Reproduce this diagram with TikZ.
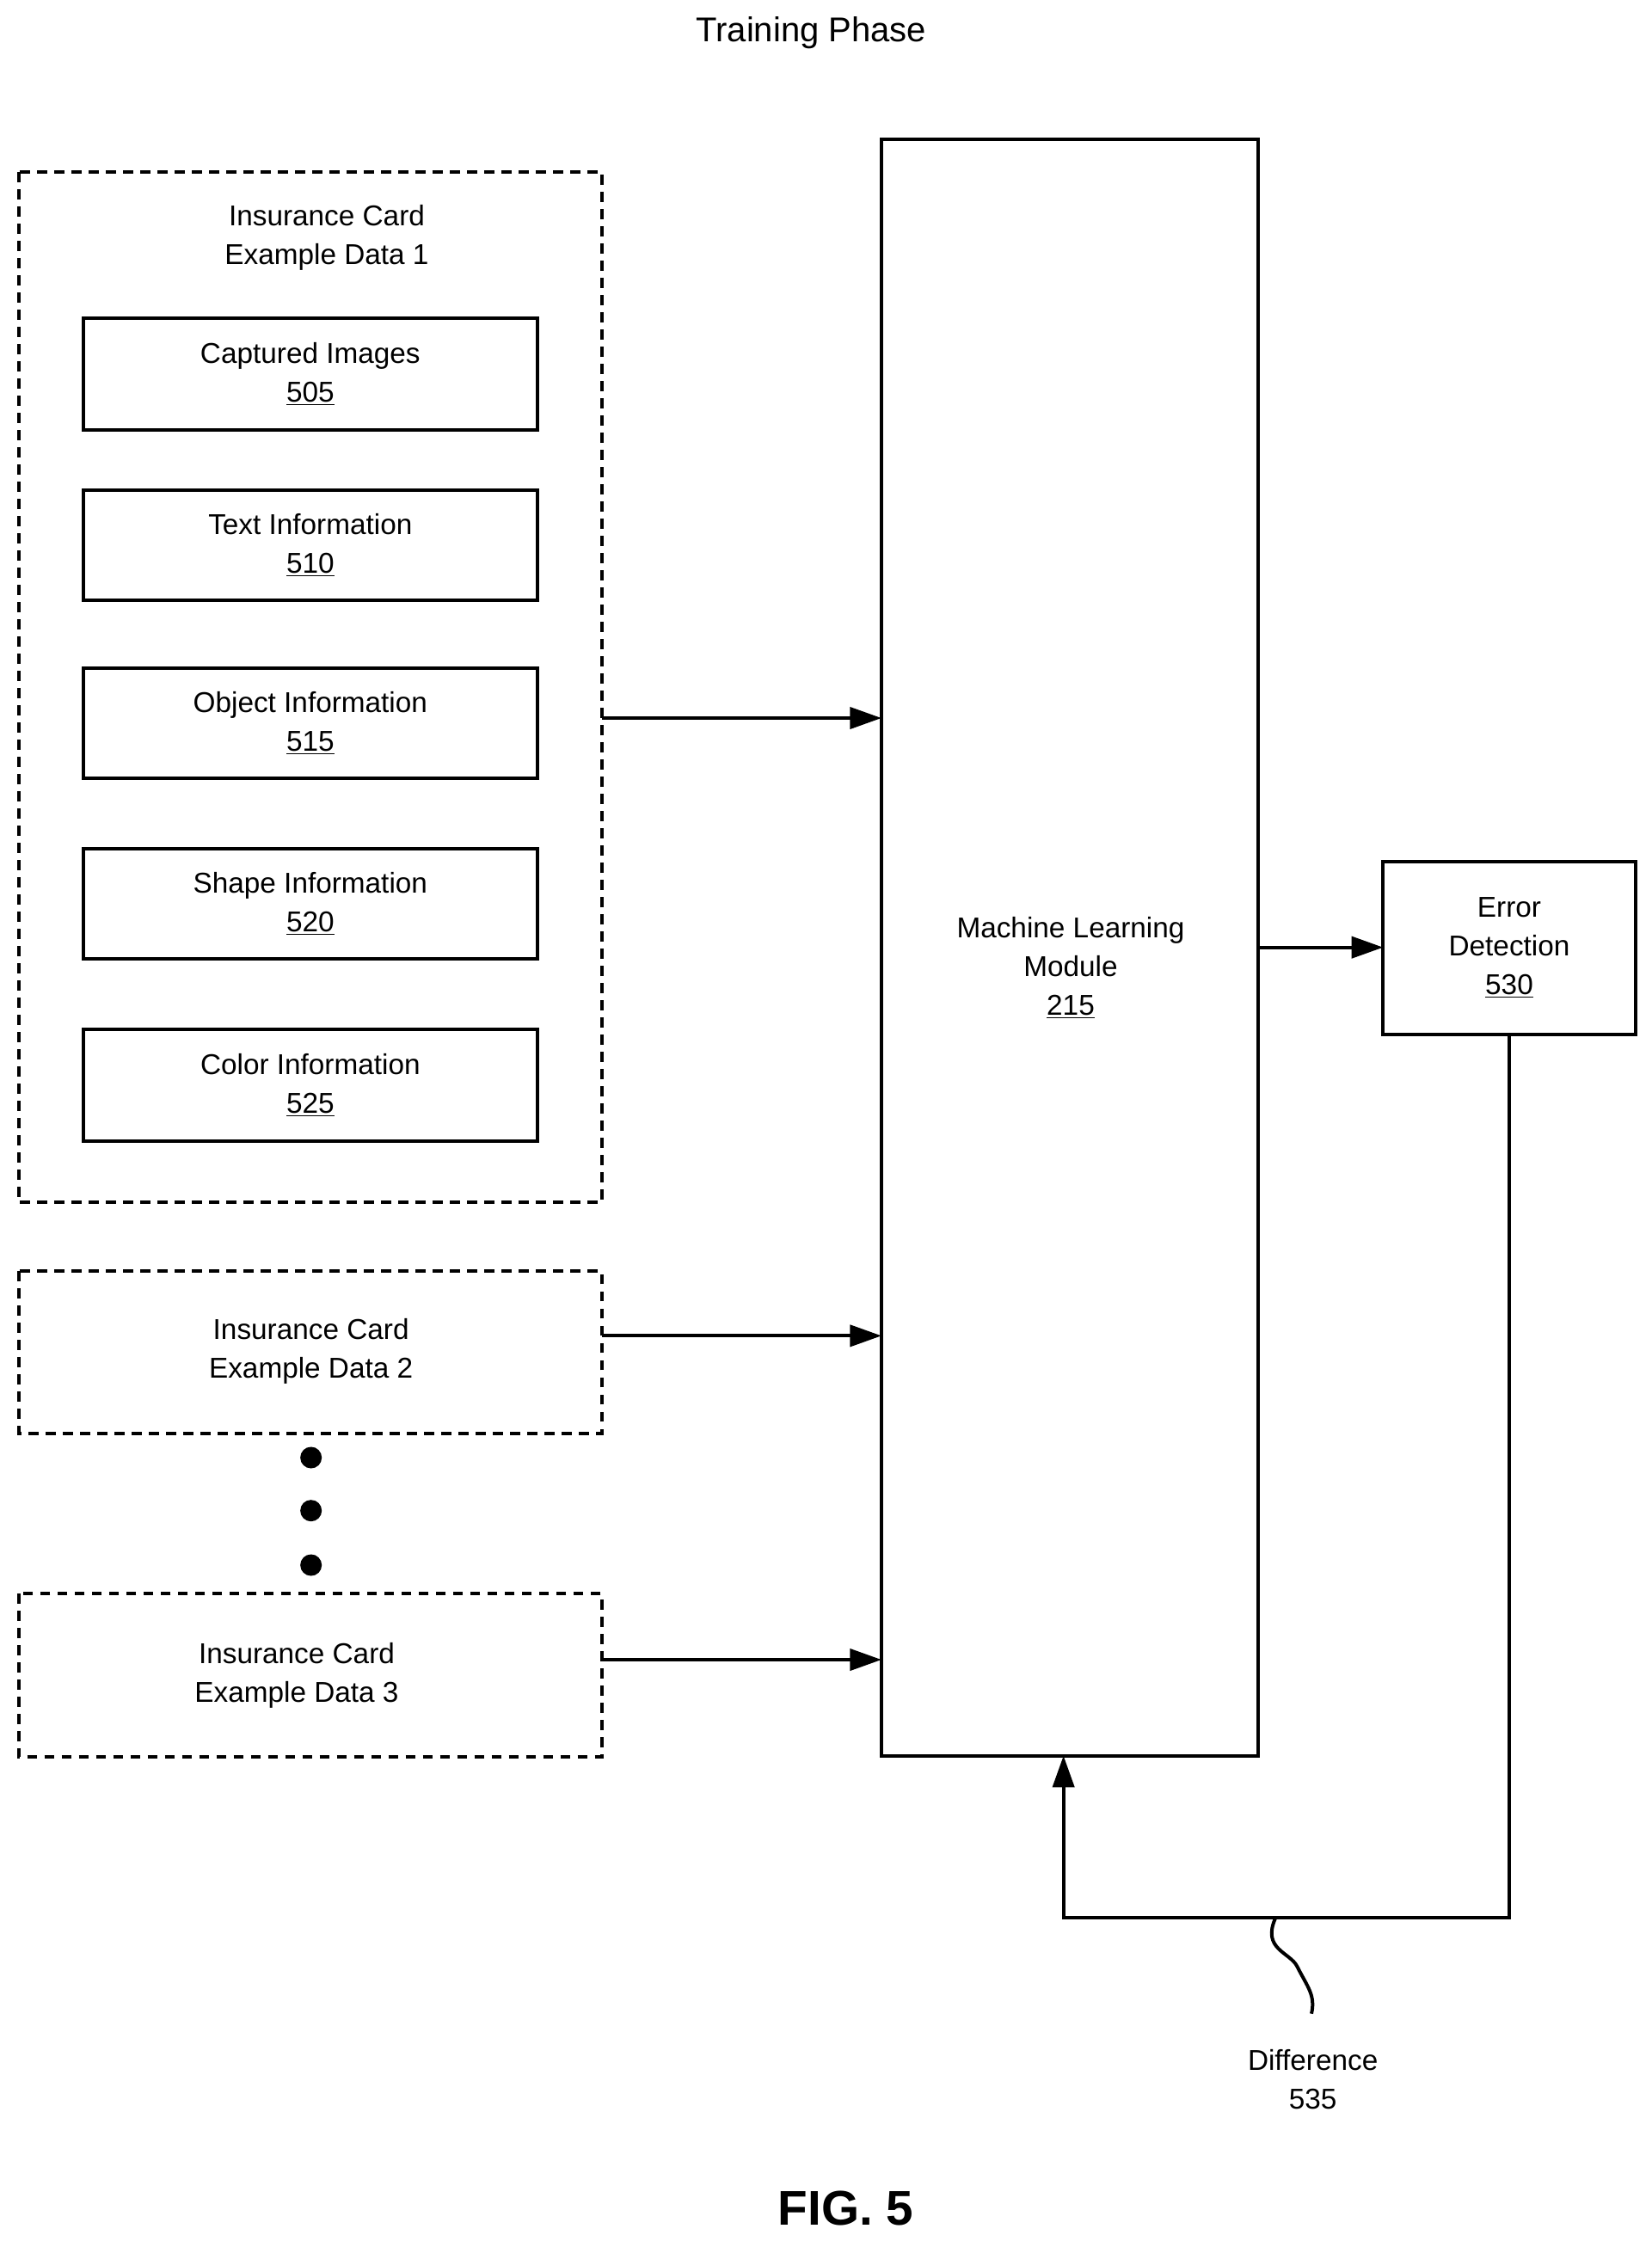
\documentclass[tikz,border=0pt]{standalone}
\usepackage{fontspec}
\setmainfont{Liberation Sans}
\usetikzlibrary{arrows.meta}
\begin{document}
\begin{tikzpicture}[x=1pt,y=-1pt,
  lw/.style={line width=2.4pt},
  dbox/.style={lw,dash pattern=on 7pt off 5pt},
  sbox/.style={lw},
  t/.style={font=\fontsize{20}{27}\selectfont,align=center},
  arr/.style={lw,-{Triangle[length=22pt,width=15pt]}}]
\useasboundingbox (0,0) rectangle (1152,1563.6);
\node[t,font=\fontsize{24}{28}\selectfont] (title) at (566,23) {Training Phase};
\draw[dbox] (13,120) rectangle (420,839);
\coordinate (d1) at (420,501);
\node[t] (d1t) at (228,166) {Insurance Card\\Example Data 1};
\foreach \n/\a/\b/\txt/\num in {b505/222/300/Captured Images/505, b510/342/419/Text Information/510, b515/466/543/Object Information/515, b520/592/669/Shape Information/520, b525/718/796/Color Information/525}{
  \draw[sbox] (58,\a) rectangle (375,\b);
  \node[t] (\n) at (216.5,{(\a+\b)/2}) {\txt\\\underline{\num}};
}
\draw[dbox] (13,887) rectangle (420,1000);
\node[t] (d2t) at (217,943) {Insurance Card\\Example Data 2};
\coordinate (d2) at (420,932);
\draw[dbox] (13,1112) rectangle (420,1226);
\node[t] (d3t) at (207,1169) {Insurance Card\\Example Data 3};
\coordinate (d3) at (420,1158);
\foreach \y in {1017,1054,1092} \fill (217,\y) circle (7.5);
\draw[sbox] (615,97) rectangle (878,1225);
\node[t] (ml) at (747,675) {Machine Learning\\Module\\\underline{215}};
\draw[sbox] (965,601) rectangle (1141,722);
\node[t] (err) at (1053,661) {Error\\Detection\\\underline{530}};
\coordinate (m1) at (615,501);\coordinate (m2) at (615,932);\coordinate (m3) at (615,1158);
\draw[arr] (d1) -- (m1);
\draw[arr] (d2) -- (m2);
\draw[arr] (d3) -- (m3);
\coordinate (mo) at (878,661); \coordinate (ei) at (965,661);
\draw[arr] (mo) -- (ei);
\coordinate (eb) at (1053,722); \coordinate (mb) at (742,1225);
\draw[arr] (eb) -- (1053,1338) -- (742,1338) -- (mb);
\draw[lw] (890,1338) .. controls (880,1360) and (900,1362) .. (905,1372) .. controls (912,1386) and (918,1392) .. (915,1405);
\node[t] (diff) at (916,1451) {Difference\\535};
\node[font=\bfseries\fontsize{34}{40}\selectfont] (fig) at (590,1541) {FIG. 5};
\end{tikzpicture}
\end{document}
